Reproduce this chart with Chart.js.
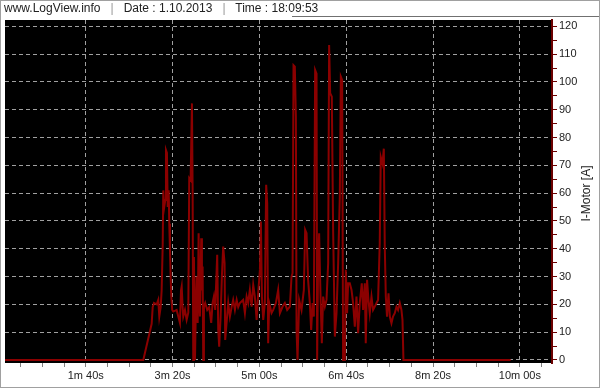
<!DOCTYPE html>
<html>
<head>
<meta charset="utf-8">
<script src="https://cdn.jsdelivr.net/npm/chart.js@4/dist/chart.umd.min.js"></script>
<style>
    html, body { margin: 0; padding: 0; background: #fff; }
    #wrap { position: relative; width: 600px; height: 388px; overflow: hidden; }
    #frame { position: absolute; left: 0; top: 0; width: 600px; height: 388px; box-sizing: border-box; border: 1px solid #a0a0a0; pointer-events: none; }
    #header { position: absolute; left: 4px; top: 1px; font: 12px "Liberation Sans", Arial, sans-serif; color: #222; white-space: pre; }
    #header .sep { color: #999; }
    #headerLine { position: absolute; left: 292px; right: 0; top: 16px; height: 1px; background: #707070; }
    canvas { position: absolute; left: 0; top: 0; }
</style>
</head>
<body>
<div id="wrap">
    <canvas id="motorChart" width="600" height="388"></canvas>
    <div id="header">www.LogView.info   <span class="sep">|</span>   Date : 1.10.2013   <span class="sep">|</span>   Time : 18:09:53</div>
    <div id="headerLine"></div>
    <div id="frame"></div>
</div>
<script>
// log time in seconds
const timeSec = [
    7, 166.3, 175.9, 177.1, 178.6, 181.7, 183.5, 184.7, 186.3, 187.4,
    188.6, 189.3, 190.4, 191.6, 192.4, 193.5, 194.4, 195.5, 196.2, 197.0,
    197.8, 198.5, 199.6, 200.8, 204.7, 206.6, 208.5, 209.7, 210.5, 211.6,
    212.3, 214.3, 216.2, 218.1, 219.2, 220.8, 222.3, 223.1, 223.8, 224.6,
    225.8, 226.9, 227.7, 228.9, 230.0, 230.7, 231.5, 233.0, 233.8, 234.6,
    235.3, 236.1, 237.6, 239.9, 242.2, 244.5, 246.1, 247.6, 249.1, 251.4,
    252.6, 253.7, 255.3, 256.8, 258.3, 259.9, 260.6, 262.2, 264.1, 266.0,
    268.0, 269.8, 271.8, 273.8, 275.6, 277.5, 281.3, 283.3, 285.3, 287.1,
    289.0, 291.0, 292.9, 294.8, 296.8, 298.6, 300.6, 301.7, 302.9, 304.4,
    306.3, 307.8, 309.0, 310.1, 311.3, 314.0, 315.9, 319.0, 321.6, 323.6,
    326.7, 329.3, 332.0, 335.1, 337.0, 338.2, 339.3, 340.8, 342.0, 342.8,
    343.9, 345.8, 348.5, 351.2, 352.7, 354.3, 356.1, 358.1, 359.6, 361.2,
    362.7, 364.2, 365.8, 366.5, 367.6, 368.8, 370.4, 371.9, 373.4, 375.4,
    377.3, 379.2, 380.3, 381.5, 383.4, 384.9, 386.9, 388.8, 390.7, 392.6,
    393.8, 395.3, 396.4, 398.4, 399.5, 401.0, 402.2, 404.1, 406.1, 407.9,
    409.9, 411.8, 413.7, 415.6, 417.9, 419.4, 421.4, 422.5, 424.0, 425.6,
    427.1, 429.1, 430.9, 432.9, 434.9, 436.7, 438.6, 439.8, 441.8, 443.3,
    444.4, 445.6, 447.0, 448.7, 450.2, 452.1, 453.9, 455.9, 457.9, 459.7,
    461.7, 463.6, 464.8, 465.9, 589.4
];

// I-Motor [A]
const motorAmps = [
    0, 0, 13, 19, 20.5, 20, 21.6, 15.6, 19, 25,
    40.8, 61, 55, 57.5, 75.5, 74.5, 55, 61, 49, 39.6,
    30, 22.8, 18, 17.4, 18, 15.6, 13.3, 25, 26.4, 19,
    15.6, 18, 14.4, 17, 65.4, 64.7, 92.3, 61, 0, 37,
    0, 20.5, 30, 13.3, 45.6, 22.8, 15.6, 43.8, 25, 33.6,
    0, 19, 20.5, 18, 19, 13.3, 20.5, 22.8, 18, 37.8,
    10.8, 4.8, 15.6, 30, 40.8, 34.8, 7.2, 13.3, 20.5, 15.6,
    19, 21.6, 18, 21.6, 19, 20.5, 21.6, 16.9, 22.8, 20.5,
    25.2, 19.2, 27, 22.8, 14.4, 24, 32.4, 49.8, 22.8, 14.4,
    20.5, 63, 56.4, 6, 20.5, 16.9, 18, 20.5, 25.2, 16.8,
    19.2, 20.5, 18, 19.2, 30, 31.2, 106, 105.5, 87.5, 10.8,
    0, 21.6, 18, 25.2, 46.8, 45.6, 28.8, 20.5, 10.8, 20.5,
    15.6, 104.3, 103, 0, 34.8, 45.6, 22.8, 6, 22.8, 19.2,
    21.6, 34.8, 113.3, 96, 94.7, 46.8, 8.4, 16.8, 34.8, 58.7,
    101.9, 100.7, 0, 0, 32.4, 16.8, 27.6, 27.6, 25.2, 20.5,
    12, 22.8, 9.6, 20.5, 27.6, 18, 27.6, 6, 28.8, 21.6,
    16.8, 22.8, 18, 19.2, 20.5, 21.6, 42, 73, 70.6, 76,
    40.8, 22.8, 15.6, 24, 15.6, 13.2, 15.6, 16.8, 19.2, 18,
    20.5, 18, 14.4, 0, 0
];

const xTickValues = [100, 200, 300, 400, 500, 600];
const xTickLabels = ["1m 40s", "3m 20s", "5m 00s", "6m 40s", "8m 20s", "10m 00s"];
const yTickValues = [0, 10, 20, 30, 40, 50, 60, 70, 80, 90, 100, 110, 120];

const labelFont = { family: "'Liberation Sans', Arial, sans-serif", size: 11 };

const plotBackground = {
    id: "plotBackground",
    beforeDraw(chart) {
        const a = chart.chartArea;
        chart.ctx.save();
        chart.ctx.fillStyle = "#000";
        chart.ctx.fillRect(a.left, a.top, a.right - a.left, a.bottom - a.top);
        chart.ctx.restore();
    },
    afterDraw(chart) {
        const c = chart.ctx;
        const a = chart.chartArea;
        c.save();
        c.translate(587, (a.top + a.bottom) / 2 + 2);
        c.rotate(-Math.PI / 2);
        c.font = "12px 'Liberation Sans', Arial, sans-serif";
        c.fillStyle = "#222";
        c.textAlign = "center";
        c.textBaseline = "middle";
        c.fillText("I-Motor [A]", 0, 0);
        c.restore();
    }
};

const ctx = document.getElementById("motorChart");

const motorChart = new Chart(ctx, {
    type: "line",
    data: {
        datasets: [
            {
                label: "I-Motor [A]",
                data: timeSec.map((t, i) => ({ x: t, y: motorAmps[i] })),
                borderColor: "#8b0000",
                borderWidth: 2,
                pointRadius: 0,
                tension: 0
            }
        ]
    },
    options: {
        responsive: false,
        animation: false,
        layout: { padding: { left: 5, top: 20, right: 0, bottom: 0 } },
        plugins: {
            legend: { display: false },
            tooltip: { enabled: false }
        },
        scales: {
            x: {
                type: "linear",
                min: 7,
                max: 637,
                afterBuildTicks: (scale) => {
                    const ticks = [];
                    for (let v = 25; v < 637; v += 25) ticks.push({ value: v });
                    scale.ticks = ticks;
                },
                afterFit: (scale) => { scale.height = 25; },
                ticks: {
                    autoSkip: false,
                    maxRotation: 0,
                    padding: 2,
                    color: "#222",
                    font: labelFont,
                    callback: (v) => {
                        const i = xTickValues.indexOf(v);
                        return i >= 0 ? xTickLabels[i] : "";
                    }
                },
                grid: {
                    color: (c) => xTickValues.includes(c.tick.value) ? "#a0a0a0" : "rgba(0,0,0,0)",
                    tickColor: "#808080",
                    tickLength: 4,
                    tickBorderDash: []
                },
                border: { display: false, dash: [4, 3] }
            },
            y: {
                position: "right",
                min: -1.1,
                max: 122.3,
                afterBuildTicks: (scale) => {
                    const ticks = [];
                    for (let v = 0; v <= 120; v += 5) ticks.push({ value: v });
                    scale.ticks = ticks;
                },
                afterFit: (scale) => { scale.width = 48; },
                ticks: {
                    autoSkip: false,
                    padding: 2,
                    color: "#222",
                    font: labelFont,
                    callback: (v) => yTickValues.includes(v) ? String(v) : ""
                },
                grid: {
                    color: (c) => yTickValues.includes(c.tick.value) ? "#a0a0a0" : "rgba(0,0,0,0)",
                    tickColor: "#6b0000",
                    tickLength: 5,
                    tickBorderDash: []
                },
                border: { display: true, color: "#6b0000", width: 2, dash: [4, 3] }
            }
        }
    },
    plugins: [plotBackground]
});
</script>
</body>
</html>
